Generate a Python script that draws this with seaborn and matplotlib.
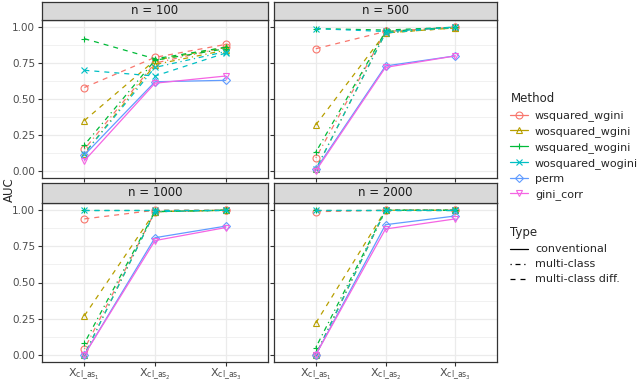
import numpy as np
import pandas as pd
import matplotlib
matplotlib.use("Agg")
import matplotlib.pyplot as plt
from matplotlib.lines import Line2D
import seaborn as sns

sns.set_style("white")
plt.rcParams['font.family'] = ['DejaVu Sans']
plt.rcParams['mathtext.fontset'] = 'dejavusans'

panels = ['n = 100', 'n = 500', 'n = 1000', 'n = 2000']
positions = [1, 2, 3]
tick_labels = [r'$\mathregular{X_{cl\_as_1}}$', r'$\mathregular{X_{cl\_as_2}}$',
               r'$\mathregular{X_{cl\_as_3}}$']

methods = ['wsquared_wgini', 'wosquared_wgini', 'wsquared_wogini',
           'wosquared_wogini', 'perm', 'gini_corr']
types = ['conventional', 'multi-class', 'multi-class diff.']
colors = ['#F8766D', '#B79F00', '#00BA38', '#00BFC4', '#619CFF', '#F564E3']
markers = ['o', '^', '+', 'x', 'D', 'v']

# one entry per drawn line
series_method = ['wsquared_wgini', 'wsquared_wgini', 'wosquared_wgini', 'wosquared_wgini',
                 'wsquared_wogini', 'wsquared_wogini', 'wosquared_wogini', 'wosquared_wogini',
                 'perm', 'gini_corr']
series_type = ['multi-class diff.', 'multi-class', 'multi-class diff.', 'multi-class',
               'multi-class diff.', 'multi-class', 'multi-class diff.', 'multi-class',
               'conventional', 'conventional']

auc_n100 = [[0.58, 0.79, 0.88], [0.15, 0.75, 0.86], [0.35, 0.77, 0.86], [0.12, 0.74, 0.84],
            [0.92, 0.78, 0.86], [0.18, 0.77, 0.85], [0.70, 0.66, 0.82], [0.12, 0.72, 0.83],
            [0.11, 0.62, 0.63], [0.07, 0.61, 0.66]]
auc_n500 = [[0.85, 0.97, 1.00], [0.09, 0.97, 1.00], [0.32, 0.96, 0.995], [0.01, 0.96, 0.995],
            [0.99, 0.98, 1.00], [0.13, 0.97, 1.00], [0.99, 0.97, 1.00], [0.01, 0.96, 1.00],
            [0.01, 0.73, 0.80], [0.00, 0.72, 0.80]]
auc_n1000 = [[0.94, 1.00, 1.00], [0.04, 0.99, 1.00], [0.27, 0.99, 1.00], [0.00, 0.99, 1.00],
             [1.00, 1.00, 1.00], [0.08, 0.99, 1.00], [1.00, 1.00, 1.00], [0.00, 0.99, 1.00],
             [0.00, 0.81, 0.89], [0.00, 0.79, 0.88]]
auc_n2000 = [[0.99, 1.00, 1.00], [0.00, 1.00, 1.00], [0.22, 1.00, 1.00], [0.00, 1.00, 1.00],
             [1.00, 1.00, 1.00], [0.05, 1.00, 1.00], [1.00, 1.00, 1.00], [0.00, 1.00, 1.00],
             [0.00, 0.90, 0.96], [0.00, 0.87, 0.94]]
all_auc = [auc_n100, auc_n500, auc_n1000, auc_n2000]

rows = []
for p, auc in zip(panels, all_auc):
    for k, vals in enumerate(auc):
        for x, v in zip(positions, vals):
            rows.append(dict(panel=p, series=k, Method=series_method[k],
                             Type=series_type[k], pos=x, AUC=v))
df = pd.DataFrame(rows)

linestyles = {'conventional': '-', 'multi-class': (0, (1, 3, 4, 3)),
              'multi-class diff.': (0, (4, 4))}
color_of = dict(zip(methods, colors))
marker_of = dict(zip(methods, markers))

fig = plt.figure(figsize=(6.4, 3.81), dpi=100)
W, H = 640, 381
boxes = [(42, 20, 268, 178), (274, 20, 497, 178), (42, 203, 268, 362), (274, 203, 497, 362)]
strips = [(2, 20), (2, 20), (183, 203), (183, 203)]
edge = '#333333'

for i, p in enumerate(panels):
    x0, y0, x1, y1 = boxes[i]
    ax = fig.add_axes([x0 / W, 1 - y1 / H, (x1 - x0) / W, (y1 - y0) / H])
    sub = df[df.panel == p]
    for k in range(len(series_method)):
        s = sub[sub.series == k]
        m = series_method[k]
        c = color_of[m]
        sns.lineplot(data=s, x='pos', y='AUC', ax=ax, color=c, lw=0.9,
                     linestyle=linestyles[series_type[k]], marker=marker_of[m],
                     mfc='none', mec=c, ms=5 if marker_of[m] != 'D' else 4.2,
                     mew=0.8, errorbar=None)
    ax.set_xlim(0.4, 3.6)
    ax.set_ylim(-0.05, 1.05)
    ax.set_xticks(positions)
    ax.set_yticks([0, 0.25, 0.5, 0.75, 1.0])
    ax.set_yticks([0.125, 0.375, 0.625, 0.875], minor=True)
    ax.grid(True, which='major', color='#EBEBEB', lw=0.9)
    ax.grid(True, which='minor', axis='y', color='#EBEBEB', lw=0.5)
    ax.set_axisbelow(True)
    ax.set_xlabel('')
    ax.set_ylabel('')
    for sp in ax.spines.values():
        sp.set_color(edge)
        sp.set_linewidth(0.9)
    ax.tick_params(axis='both', which='major', length=3, width=0.8, color=edge,
                   labelsize=7.5, labelcolor='#4D4D4D', pad=2, left=True, bottom=True)
    ax.tick_params(axis='x', pad=0.5)
    ax.tick_params(axis='y', which='minor', length=0)
    if i in (0, 2):
        ax.set_yticklabels(['0.00', '0.25', '0.50', '0.75', '1.00'])
    else:
        ax.set_yticklabels([])
    if i in (2, 3):
        ax.set_xticklabels(tick_labels, fontsize=8, color='#4D4D4D')
    else:
        ax.set_xticklabels([])

    sy0, sy1 = strips[i]
    sax = fig.add_axes([x0 / W, 1 - sy1 / H, (x1 - x0) / W, (sy1 - sy0) / H])
    sax.set_facecolor('#D9D9D9')
    sax.set_xticks([])
    sax.set_yticks([])
    for sp in sax.spines.values():
        sp.set_color(edge)
        sp.set_linewidth(0.9)
    sax.text(0.5, 0.5, p, ha='center', va='center', fontsize=8.5, color='#1A1A1A',
             transform=sax.transAxes)

fig.text(9 / W, 1 - 190 / H, 'AUC', rotation=90, ha='center', va='center', fontsize=8.5)

method_handles = [Line2D([], [], color=c, marker=m, mfc='none', mec=c, lw=0.9,
                         ms=5 if m != 'D' else 4.2, mew=0.8)
                  for c, m in zip(colors, markers)]
leg1 = fig.legend(method_handles, methods, title='Method', loc='upper left',
                  bbox_to_anchor=(506 / W, 1 - 88 / H), frameon=False, fontsize=8,
                  title_fontsize=8.5, handlelength=1.6, handletextpad=0.6,
                  labelspacing=0.45, borderaxespad=0)
leg1._legend_box.align = 'left'

type_handles = [Line2D([], [], color='black', lw=0.9, linestyle=linestyles[t]) for t in types]
leg2 = fig.legend(type_handles, types, title='Type', loc='upper left',
                  bbox_to_anchor=(506 / W, 1 - 222 / H), frameon=False, fontsize=8,
                  title_fontsize=8.5, handlelength=1.6, handletextpad=0.6,
                  labelspacing=0.45, borderaxespad=0)
leg2._legend_box.align = 'left'

fig.savefig('out.png', dpi=100)
